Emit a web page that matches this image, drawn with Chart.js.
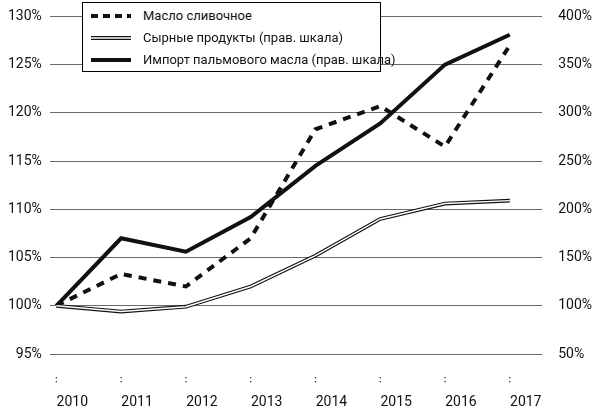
<!DOCTYPE html>
<html><head><meta charset="utf-8">
<script src="https://cdn.jsdelivr.net/npm/chart.js@4"></script>
<style>
body{margin:0;background:#fff;font-family:"Liberation Sans Narrow",Roboto,sans-serif}
#w{position:relative;width:600px;height:410px}
#lg{position:absolute;left:82px;top:2px;width:297px;height:68px;border:1.5px solid #000;background:#fff;font-size:13px;color:#111;white-space:nowrap}
.r{position:absolute;left:8px;display:flex;align-items:center}
.r svg{margin-right:12px}
</style></head><body>
<div id="w"><canvas id="c" width="600" height="410"></canvas>
<div id="lg">
<div class="r" style="top:5px"><svg width="40" height="8"><line x1="0" y1="4" x2="40" y2="4" stroke="#111" stroke-width="4" stroke-dasharray="7,5"/></svg>Масло сливочное</div>
<div class="r" style="top:27px"><svg width="40" height="8"><line x1="0" y1="4" x2="40" y2="4" stroke="#111" stroke-width="4"/><line x1="0" y1="4" x2="40" y2="4" stroke="#fff" stroke-width="1.6"/></svg>Сырные продукты (прав. шкала)</div>
<div class="r" style="top:49px"><svg width="40" height="8"><line x1="0" y1="4" x2="40" y2="4" stroke="#111" stroke-width="4"/></svg>Импорт пальмового масла (прав. шкала)</div>
</div></div>
<script>
const years=[2010,2011,2012,2013,2014,2015,2016,2017];
const butter=[100,103.3,102,107,118.3,120.7,116.5,127];
const cheese=[100,94,99,120,152,190,206,209];
const palm=[100,170,156,192,245,289,350,381];
const pts=a=>a.map((v,i)=>({x:years[i],y:v}));
const FONT='"Liberation Sans Narrow", Roboto, sans-serif';
const xlab={id:'xlab',afterDraw(ch){const c=ch.ctx,s=ch.scales.x;c.save();c.fillStyle='#333';
years.forEach(y=>{const x=s.getPixelForValue(y);c.fillRect(x-0.6,377,1.3,1.3);c.fillRect(x-0.6,381,1.3,1.3);});
c.fillStyle='#111';c.font='14px '+FONT;c.textAlign='center';c.textBaseline='middle';
years.forEach(y=>{c.fillText(String(y),s.getPixelForValue(y)+16,402);});c.restore();}};
new Chart(document.getElementById('c'),{type:'line',
data:{datasets:[
{data:pts(cheese),yAxisID:'y2',borderColor:'#fff',borderWidth:1.4,pointRadius:0,tension:0,order:0},
{data:pts(cheese),yAxisID:'y2',borderColor:'#111',borderWidth:3.8,pointRadius:0,tension:0,order:1},
{data:pts(palm),yAxisID:'y2',borderColor:'#111',borderWidth:4,pointRadius:0,tension:0,order:2},
{data:pts(butter),yAxisID:'y',borderColor:'#111',borderWidth:4,borderDash:[8,7],pointRadius:0,tension:0,order:3}
]},
options:{responsive:false,animation:false,layout:{padding:{top:8,bottom:48,left:0,right:0}},
plugins:{legend:{display:false},tooltip:{enabled:false}},
scales:{
x:{type:'linear',min:2009.9,max:2017.5,afterBuildTicks(s){s.ticks=years.map(v=>({value:v}));},
 grid:{display:false},border:{display:false},ticks:{display:false}},
y:{position:'left',min:95,max:130,afterBuildTicks(s){s.ticks=[95,100,105,110,115,120,125,130].map(v=>({value:v}));},
 grid:{color:'#444',lineWidth:0.8,drawTicks:false},border:{display:false},
 ticks:{color:'#111',font:{family:FONT,size:14},padding:8,callback:v=>v+'%'}},
y2:{position:'right',min:50,max:400,afterBuildTicks(s){s.ticks=[50,100,150,200,250,300,350,400].map(v=>({value:v}));},
 grid:{display:false},border:{display:false},
 ticks:{color:'#111',font:{family:FONT,size:14},padding:8,callback:v=>v+'%'}}
}},plugins:[xlab]});
</script>
</body></html>
